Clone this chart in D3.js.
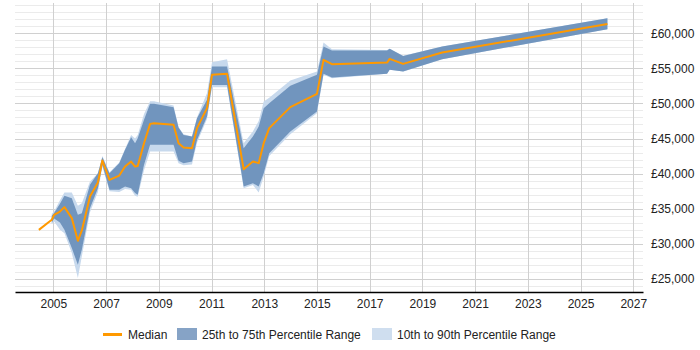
<!DOCTYPE html>
<html>
<head>
<meta charset="utf-8">
<script src="https://cdn.jsdelivr.net/npm/d3@7"></script>
<style>
  body { margin: 0; background: #fff; }
  text { font-family: "Liberation Sans", Arial, sans-serif; font-size: 12px; fill: #222; }
</style>
</head>
<body>
<div id="chart"></div>
<script>
// sample dates as fractional years
const years = [2004.45, 2004.94, 2005.03, 2005.25, 2005.42, 2005.70, 2005.93, 2006.08, 2006.39, 2006.69,
  2006.86, 2007.13, 2007.50, 2007.72, 2007.95, 2008.10, 2008.20, 2008.44, 2008.67, 2008.82,
  2009.56, 2009.75, 2009.94, 2010.26, 2010.45, 2010.83, 2011.02, 2011.59, 2012.22, 2012.57,
  2012.79, 2012.98, 2013.19, 2013.99, 2015.00, 2015.25, 2015.57, 2017.66, 2017.76, 2018.27,
  2019.75, 2026.02];
const median = [32000, 33430, 34140, 34600, 35230, 33670, 30440, 31910, 36750, 38740,
  41870, 39120, 39730, 41010, 41730, 41010, 41100, 44340, 47090, 47190,
  46950, 44340, 43720, 43630, 46480, 49330, 54070, 54210, 40640, 41730,
  41500, 44340, 46480, 49470, 51360, 56200, 55590, 55820, 56340, 55630,
  57240, 61320];
const p75 = [null, 34000, 34400, 35700, 36840, 36510, 34140, 34380, 38410, 40070,
  42350, 40070, 41500, 43390, 45200, 44340, 45050, 47660, 49940, 49940,
  49470, 46570, 45520, 45280, 47900, 50510, 55250, 55250, 43630, 45280,
  46720, 49330, 50040, 52500, 54070, 58100, 57520, 57520, 57770, 56770,
  58100, 62130];
const p25 = [null, 33000, 33600, 33040, 32000, 29400, 27020, 29160, 35090, 37940,
  41260, 37700, 37700, 38170, 37940, 37230, 36980, 41260, 44110, 44110,
  44110, 41830, 41500, 41730, 44810, 48140, 52640, 52640, 38170, 38650,
  38170, 40070, 42920, 46000, 48840, 54210, 53680, 54210, 54780, 54540,
  56300, 60570];
const p90 = [null, 34300, 34600, 36200, 37310, 37310, 35420, 35800, 38900, 40070,
  42500, 40200, 41600, 43500, 45500, 45000, 45500, 48500, 50300, 50300,
  49700, 46600, 45600, 45300, 48000, 51500, 55870, 56300, 44340, 46000,
  47500, 50270, 50800, 53260, 54540, 58660, 57700, 57600, 57800, 56800,
  58100, 62130];
const p10 = [null, 32800, 33200, 32000, 31530, 28690, 25130, 28220, 34500, 37400,
  41000, 37500, 37400, 37800, 37700, 36840, 36700, 40500, 43150, 43150,
  43150, 41500, 41200, 41300, 44400, 47800, 52310, 52310, 37940, 38400,
  37310, 39600, 42500, 45600, 48600, 54100, 53600, 54210, 54780, 54540,
  56300, 60570];
const xTicks = [2005, 2007, 2009, 2011, 2013, 2015, 2017, 2019, 2021, 2023, 2025, 2027];
const yTicks = [25000, 30000, 35000, 40000, 45000, 50000, 55000, 60000];
const legendItems = ['Median', '25th to 75th Percentile Range', '10th to 90th Percentile Range'];

const width = 700, height = 350;
const plot = { left: 15, right: 643, top: 3, bottom: 292 };
const font = '"Liberation Sans", Arial, sans-serif';

const svg = d3.select('#chart').append('svg')
  .attr('width', width)
  .attr('height', height);

const x = d3.scaleLinear().domain([2003.545, 2027.37]).range([plot.left, plot.right]);
const y = d3.scaleLinear().domain([23150, 64300]).range([plot.bottom, plot.top]);

const rows = years.map((t, i) => ({
  t: t, med: median[i], p25: p25[i], p75: p75[i], p10: p10[i], p90: p90[i]
}));

// minor + major horizontal grid
const minor = d3.range(24000, 64001, 1000).filter(v => v % 5000 !== 0);
svg.append('g').selectAll('line').data(minor).join('line')
  .attr('x1', plot.left).attr('x2', plot.right)
  .attr('y1', d => Math.round(y(d)) + 0.5).attr('y2', d => Math.round(y(d)) + 0.5)
  .attr('stroke', '#ebebeb');
svg.append('g').selectAll('line').data(yTicks).join('line')
  .attr('x1', plot.left).attr('x2', plot.right)
  .attr('y1', d => Math.round(y(d)) + 0.5).attr('y2', d => Math.round(y(d)) + 0.5)
  .attr('stroke', '#d0d0d0');
// vertical grid
svg.append('g').selectAll('line').data(xTicks).join('line')
  .attr('x1', d => Math.round(x(d)) + 0.5).attr('x2', d => Math.round(x(d)) + 0.5)
  .attr('y1', plot.top).attr('y2', plot.bottom)
  .attr('stroke', '#d0d0d0');

const banded = rows.filter(d => d.p25 != null);

const area90 = d3.area()
  .x(d => x(d.t)).y0(d => y(d.p10)).y1(d => y(d.p90));
const area75 = d3.area()
  .x(d => x(d.t)).y0(d => y(d.p25)).y1(d => y(d.p75));

svg.append('path').datum(banded)
  .attr('d', area90)
  .attr('fill', '#c7d9ed');
svg.append('path').datum(banded)
  .attr('d', area75)
  .attr('fill', '#7195be');

svg.append('path').datum(rows)
  .attr('d', d3.line().x(d => x(d.t)).y(d => y(d.med)))
  .attr('fill', 'none')
  .attr('stroke', '#ff9900')
  .attr('stroke-width', 2)
  .attr('stroke-linejoin', 'round');

// x axis
const xAxis = svg.append('g')
  .attr('transform', 'translate(0,' + plot.bottom + ')')
  .call(d3.axisBottom(x).tickValues(xTicks).tickFormat(d3.format('d')).tickSize(0).tickPadding(7));
xAxis.select('.domain').attr('stroke', '#000').attr('stroke-width', 1.5);
xAxis.selectAll('text').attr('font-size', 12).attr('font-family', font).attr('fill', '#222');

// y axis on the right
const yAxis = svg.append('g')
  .attr('transform', 'translate(' + plot.right + ',0)')
  .call(d3.axisRight(y).tickValues(yTicks).tickFormat(d => '£' + d3.format(',')(d)).tickSize(0).tickPadding(8));
yAxis.select('.domain').remove();
yAxis.selectAll('text').attr('font-size', 12).attr('font-family', font).attr('fill', '#222');

// legend
const legend = svg.append('g').attr('transform', 'translate(0,334)');
legend.append('line')
  .attr('x1', 103).attr('x2', 122).attr('y1', 0.5).attr('y2', 0.5)
  .attr('stroke', '#ff9900').attr('stroke-width', 3);
legend.append('text').attr('x', 128).attr('y', 4.5).text(legendItems[0]);
legend.append('rect').attr('x', 177).attr('y', -6).attr('width', 20).attr('height', 12).attr('fill', '#86a3c6');
legend.append('text').attr('x', 202).attr('y', 4.5).text(legendItems[1]);
legend.append('rect').attr('x', 372).attr('y', -6).attr('width', 20).attr('height', 12).attr('fill', '#cfdeef');
legend.append('text').attr('x', 397).attr('y', 4.5).text(legendItems[2]);
</script>
</body>
</html>
